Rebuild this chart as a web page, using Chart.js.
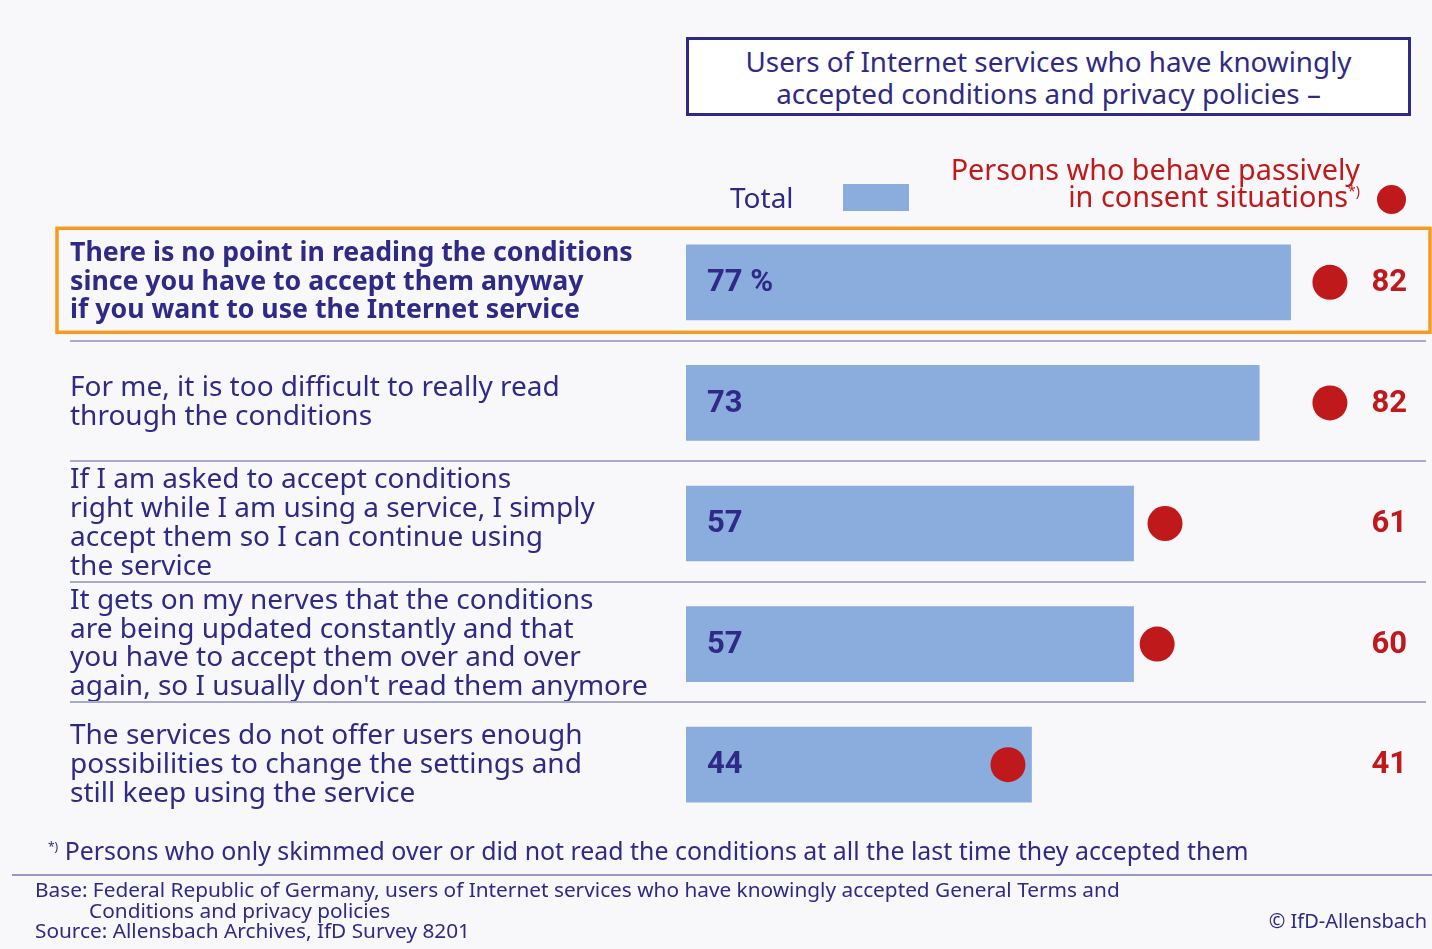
<!DOCTYPE html>
<html>
<head>
<meta charset="utf-8">
<title>Reading conditions and privacy policies</title>
<script src="https://cdn.jsdelivr.net/npm/chart.js@4.4.0/dist/chart.umd.min.js"></script>
<style>
  html, body { margin: 0; padding: 0; background: #f8f8fa; }
  body { width: 1432px; height: 949px; position: relative; overflow: hidden; font-family: "Noto Sans", Lato, sans-serif; color: #2e2a85; }
  #chartCanvas { position: absolute; left: 0; top: 0; }
  .abs { position: absolute; white-space: nowrap; }
  #titleBox { left: 686px; top: 37px; width: 719px; height: 73px; border: 3px solid #2e2a85; background: #fff;
              text-align: center; font-size: 27.8px; line-height: 32px; display: flex; flex-direction: column; justify-content: center; }
  #lgTotal { left: 730px; top: 180px; font-size: 28px; line-height: 34px; }
  #lgRect { left: 843px; top: 184px; width: 66px; height: 27px; background: #8badde; }
  #lgPassive { right: 72px; top: 155px; font-size: 28.8px; line-height: 27px; color: #c0191b; text-align: right; }
  #lgPassive sup { font-size: 14px; vertical-align: 11px; line-height: 0; }
  #lgDot { left: 1377px; top: 185px; width: 29px; height: 29px; border-radius: 50%; background: #c0191b; }
  #foot { left: 48px; top: 835px; font-size: 24.9px; line-height: 30px; }
  #foot sup { font-size: 12px; vertical-align: 9px; line-height: 0; }
  #footRule { left: 12px; top: 874px; width: 1420px; height: 2px; background: #9896c6; }
  #base { left: 35px; top: 879px; font-size: 20.8px; line-height: 20.5px; }
  #copy { right: 5px; top: 910px; font-size: 20px; line-height: 22px; }
</style>
</head>
<body>
<canvas id="chartCanvas" width="1432" height="949"></canvas>

<div id="titleBox" class="abs"><div>Users of Internet services who have knowingly</div><div>accepted conditions and privacy policies –</div></div>
<div id="lgTotal" class="abs">Total</div>
<div id="lgRect" class="abs"></div>
<div id="lgPassive" class="abs">Persons who behave passively<br>in consent situations<sup>*)</sup></div>
<div id="lgDot" class="abs"></div>

<div id="foot" class="abs"><sup>*)</sup> Persons who only skimmed over or did not read the conditions at all the last time they accepted them</div>
<div id="footRule" class="abs"></div>
<div id="base" class="abs">Base: Federal Republic of Germany, users of Internet services who have knowingly accepted General Terms and<br>&nbsp;&nbsp;&nbsp;&nbsp;&nbsp;&nbsp;&nbsp;&nbsp;&nbsp;&nbsp;Conditions and privacy policies<br>Source: Allensbach Archives, IfD Survey 8201</div>
<div id="copy" class="abs">© IfD-Allensbach</div>

<script>
// statements (y categories), one array of lines each
var categories = [
    ['There is no point in reading the conditions', 'since you have to accept them anyway', 'if you want to use the Internet service'],
    ['For me, it is too difficult to really read', 'through the conditions'],
    ['If I am asked to accept conditions', 'right while I am using a service, I simply', 'accept them so I can continue using', 'the service'],
    ['It gets on my nerves that the conditions', 'are being updated constantly and that', 'you have to accept them over and over', 'again, so I usually don\'t read them anymore'],
    ['The services do not offer users enough', 'possibilities to change the settings and', 'still keep using the service']
];

// percentages
var totalValues = [77, 73, 57, 57, 44];
var passiveValues = [82, 82, 61, 60, 41];

var navy = '#2e2a85';
var red = '#c0191b';

// separator lines, highlight box and value labels
var decorPlugin = {
    id: 'decor',
    beforeDatasetsDraw: function (chart) {
        var ctx = chart.ctx;
        var y = chart.scales.y;
        ctx.save();
        ctx.strokeStyle = '#a9a8d0';
        ctx.lineWidth = 2;
        for (var i = 0; i < categories.length - 1; i++) {
            var yy = Math.round((y.getPixelForValue(i) + y.getPixelForValue(i + 1)) / 2) - 2;
            ctx.beginPath();
            ctx.moveTo(70, yy);
            ctx.lineTo(1426, yy);
            ctx.stroke();
        }
        var c = y.getPixelForValue(0);
        ctx.strokeStyle = '#f39c1f';
        ctx.lineWidth = 3.5;
        ctx.strokeRect(57, c - 54, 1373, 104);
        ctx.restore();
    },
    afterDatasetsDraw: function (chart) {
        var ctx = chart.ctx;
        var y = chart.scales.y;
        var x = chart.scales.x;
        ctx.save();
        ctx.font = 'bold 31px Roboto, "Liberation Sans", sans-serif';
        ctx.textBaseline = 'middle';
        for (var i = 0; i < totalValues.length; i++) {
            var py = y.getPixelForValue(i) + 1;
            ctx.fillStyle = navy;
            ctx.textAlign = 'left';
            ctx.fillText(i === 0 ? totalValues[i] + ' %' : String(totalValues[i]), x.left + 21, py);
            ctx.fillStyle = red;
            ctx.textAlign = 'right';
            ctx.fillText(String(passiveValues[i]), 1407, py);
        }
        ctx.restore();
    }
};

var ctx = document.getElementById('chartCanvas').getContext('2d');
var chart = new Chart(ctx, {
    type: 'bar',
    data: {
        labels: categories,
        datasets: [{
            label: 'Total',
            data: totalValues,
            backgroundColor: '#8badde',
            borderWidth: 0,
            barThickness: 75,
            order: 2
        }, {
            type: 'line',
            label: 'Persons who behave passively in consent situations',
            data: passiveValues,
            showLine: false,
            pointRadius: 17.5,
            pointHoverRadius: 17.5,
            pointBackgroundColor: red,
            pointBorderWidth: 0,
            borderColor: red,
            order: 1
        }]
    },
    options: {
        indexAxis: 'y',
        responsive: false,
        animation: false,
        layout: { autoPadding: false, padding: { left: 70, right: 0, top: 222, bottom: 124 } },
        plugins: {
            legend: { display: false },
            tooltip: { enabled: false }
        },
        scales: {
            x: { display: false, min: 0, max: 95 },
            y: {
                grid: { display: false },
                border: { display: false },
                afterFit: function (axis) { axis.width = 616; },
                ticks: {
                    autoSkip: false,
                    crossAlign: 'far',
                    padding: 0,
                    color: navy,
                    font: function (c) {
                        return c.index === 0
                            ? { family: '"Noto Sans", Lato, sans-serif', size: 26.7, weight: 'bold', lineHeight: 1.07 }
                            : { family: '"Noto Sans", Lato, sans-serif', size: 28, weight: 'normal', lineHeight: 1.03 };
                    }
                }
            }
        }
    },
    plugins: [decorPlugin]
});
</script>
</body>
</html>
